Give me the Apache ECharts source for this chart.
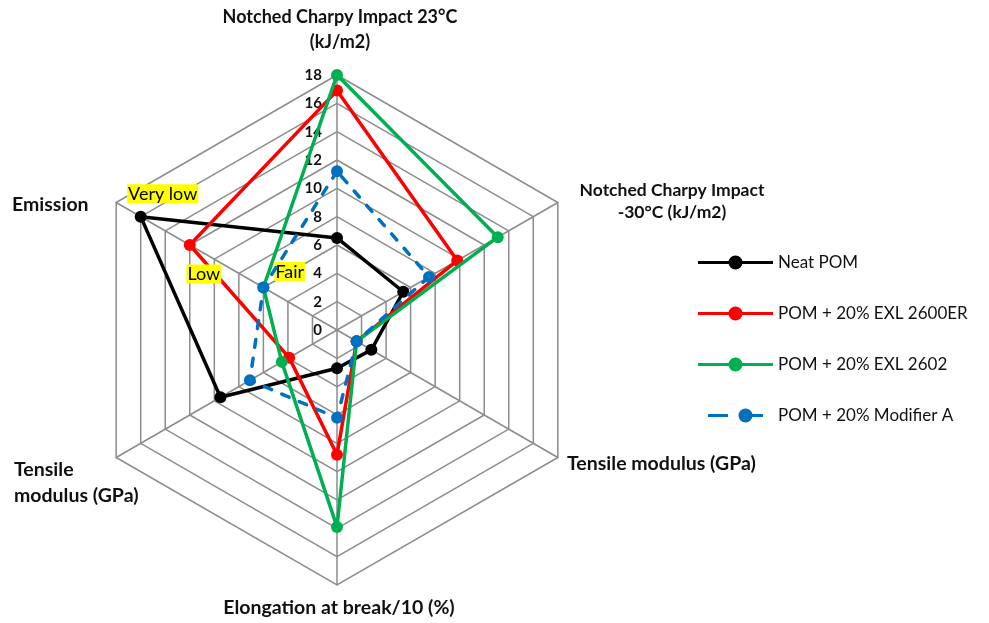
<!DOCTYPE html>
<html>
<head>
<meta charset="utf-8">
<script src="https://cdn.jsdelivr.net/npm/echarts@6/dist/echarts.min.js"></script>
<style>html,body{margin:0;padding:0;background:#fff}#c{width:989px;height:623px}</style>
</head>
<body>
<div id="c"></div>
<script>
// Indicators, counter-clockwise from the top (ECharts order)
const indicatorNames = [
  'Notched Charpy Impact 23°C (kJ/m2)',
  'Emission',
  'Tensile modulus (GPa)',
  'Elongation at break/10 (%)',
  'Tensile modulus (GPa)',
  'Notched Charpy Impact -30°C (kJ/m2)'
];
const axisMax = 18;
const seriesNames = ['Neat POM', 'POM + 20% EXL 2600ER', 'POM + 20% EXL 2602', 'POM + 20% Modifier A'];
const neatPOM     = [6.5, 16, 9.5, 2.7, 2.8, 5.4];
const exl2600er   = [16.9, 12, 3.9, 8.8, 1.6, 9.8];
const exl2602     = [18, 6, 4.5, 13.9, 1.6, 13.1];
const modifierA   = [11.2, 6, 7.1, 6.2, 1.6, 7.5];
const emissionLabels = ['Very low', 'Low', 'Fair', ''];
const emissionIndex = 1;

const seriesValues = [neatPOM, exl2600er, exl2602, modifierA];
const colors = ['#000000', '#ff0000', '#00b050', '#0070c0'];
const FONT = 'Lato, "Open Sans", sans-serif';

const solidIcon = 'path://M0,5.5H75V8.5H0Z M30.5,7a7,7 0 1,1 14,0a7,7 0 1,1 -14,0Z';
const dashIcon = 'path://M0,5.5H20V8.5H0Z M37,5.5H55V8.5H37Z M30.5,7a7,7 0 1,1 14,0a7,7 0 1,1 -14,0Z';

const labelOffsets = [
  {position: 'top', offset: [22, -3]},
  {position: 'bottom', offset: [14, 9]},
  {position: 'right', offset: [0, -16]},
  {position: 'top', offset: [0, 0]}
];

const series = seriesNames.map((name, i) => ({
  type: 'radar',
  name: name,
  z: 2 + i,
  symbol: 'circle',
  symbolSize: 12,
  lineStyle: {color: colors[i], width: 3.5, type: i === 3 ? [8, 11] : 'solid', cap: 'round', join: 'round'},
  itemStyle: {color: colors[i]},
  label: {
    show: !!emissionLabels[i],
    position: labelOffsets[i].position,
    offset: labelOffsets[i].offset,
    distance: 5,
    formatter: function (p) {
      const isEm = (p.dimensionIndex != null) ? p.dimensionIndex === emissionIndex
        : p.value === seriesValues[i][emissionIndex];
      return isEm ? '{hl|' + emissionLabels[i] + '}' : '';
    },
    rich: {hl: {backgroundColor: '#ffff00', color: '#000', fontFamily: FONT, fontSize: 18, padding: [1, 1, 0, 1], lineHeight: 18}}
  },
  data: [{value: seriesValues[i], name: name}]
}));

function txt(text, x, y, size, lh, align) {
  return {type: 'text', x: x, y: y, style: {text: text, align: align || 'center', verticalAlign: 'middle',
    lineHeight: lh, fontFamily: FONT, fontWeight: 'bold', fontSize: size, fill: '#111'}};
}

const chart = echarts.init(document.getElementById('c'), null, {renderer: 'canvas'});
chart.setOption({
  backgroundColor: '#fff',
  animation: false,
  color: colors,
  legend: {
    orient: 'vertical',
    left: 693,
    top: 249,
    itemWidth: 75,
    itemHeight: 14,
    itemGap: 34,
    textStyle: {fontFamily: FONT, fontSize: 17, lineHeight: 14, color: '#111'},
    data: seriesNames.map((n, i) => ({name: n, icon: i === 3 ? dashIcon : solidIcon}))
  },
  radar: {
    center: [337, 330],
    radius: 255,
    startAngle: 90,
    shape: 'polygon',
    splitNumber: 9,
    axisName: {show: false},
    axisLine: {lineStyle: {color: '#8c8c8c', width: 1.5}},
    splitLine: {lineStyle: {color: '#8c8c8c', width: 1.5}},
    splitArea: {show: false},
    axisTick: {show: false},
    axisLabel: {show: true, color: '#111', fontFamily: FONT, fontWeight: 'bold', fontSize: 15, margin: 15},
    indicator: indicatorNames.map((n, i) => i === 0
      ? {name: n, min: 0, max: axisMax}
      : {name: n, min: 0, max: axisMax, axisLabel: {show: false}})
  },
  graphic: [
    txt('Notched Charpy Impact 23°C\n(kJ/m2)', 340, 30, 18, 25),
    txt('Notched Charpy Impact\n-30°C (kJ/m2)', 672, 201, 17.5, 22),
    txt('Tensile modulus (GPa)', 567, 464, 19.5, 24, 'left'),
    txt('Elongation at break/10 (%)', 339, 608, 19.5, 24),
    txt('Tensile\nmodulus (GPa)', 14, 483, 19.5, 26, 'left'),
    txt('Emission', 12, 205, 19.5, 24, 'left')
  ],
  series: series
});
</script>
</body>
</html>
